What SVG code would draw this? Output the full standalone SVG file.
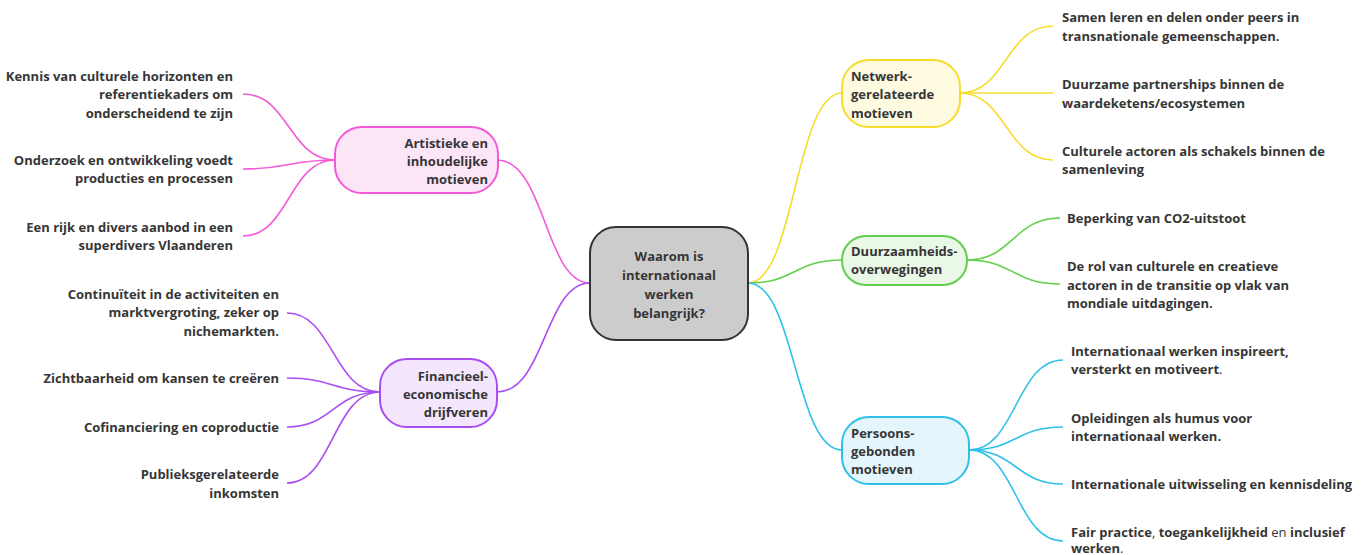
<svg xmlns="http://www.w3.org/2000/svg" width="1365" height="555" viewBox="0 0 1365 555">
<style>
text{font-family:"Open Sans","Liberation Sans",sans-serif;font-size:13px;font-weight:700;fill:#363636}
.r{text-anchor:end}
.c{text-anchor:middle}
.n{font-weight:400}
.con path{fill:none;stroke-width:1.6}
.pk{stroke:#f25ad8}
.pu{stroke:#a94ff2}
.ye{stroke:#f7dc2c}
.gr{stroke:#62cf4c}
.bl{stroke:#2fc0ea}
.box{stroke-width:2}
</style>
<rect width="1365" height="555" fill="#fff"/>
<g id="connectors" class="con">
<path class="pk" d="M590 283 C545 283 545 160 497 160"/>
<path class="pu" d="M590 283 C545 283 545 392 497 392"/>
<path class="ye" d="M748 283 C795 283 795 93 842 93"/>
<path class="gr" d="M748 283 C795 283 795 260 842 260"/>
<path class="bl" d="M748 283 C795 283 795 450 842 450"/>
<path class="pk" d="M335 160 C289 160 289 94 243 94"/>
<path class="pk" d="M335 160 C289 160 289 169 243 169"/>
<path class="pk" d="M335 160 C289 160 289 236 243 236"/>
<path class="pu" d="M380 392 C333 392 333 313 287 313"/>
<path class="pu" d="M380 392 C333 392 333 378 287 378"/>
<path class="pu" d="M380 392 C333 392 333 427 287 427"/>
<path class="pu" d="M380 392 C333 392 333 483 287 483"/>
<path class="ye" d="M960 93 C1006 93 1006 26 1053 26"/>
<path class="ye" d="M960 93 C1006 93 1006 93 1053 93"/>
<path class="ye" d="M960 93 C1006 93 1006 160 1053 160"/>
<path class="gr" d="M967 260 C1013 260 1013 218 1060 218"/>
<path class="gr" d="M967 260 C1013 260 1013 284 1060 284"/>
<path class="bl" d="M969 450 C1016 450 1016 360 1063 360"/>
<path class="bl" d="M969 450 C1016 450 1016 427 1063 427"/>
<path class="bl" d="M969 450 C1016 450 1016 484 1063 484"/>
<path class="bl" d="M969 450 C1016 450 1016 541 1063 541"/>
</g>
<g id="center">
<rect x="590" y="227" width="158" height="113" rx="26" fill="#cccccc" stroke="#333" class="box"/>
<text class="c" x="669" y="261">Waarom is</text>
<text class="c" x="669" y="280">internationaal</text>
<text class="c" x="669" y="299">werken</text>
<text class="c" x="669" y="318">belangrijk?</text>
</g>
<g id="artistiek">
<rect x="335" y="127" width="163" height="66" rx="27" fill="#fde5f8" stroke="#f25ad8" class="box"/>
<text class="r" x="488" y="148">Artistieke en</text>
<text class="r" x="488" y="166">inhoudelijke</text>
<text class="r" x="488" y="184">motieven</text>
</g>
<g id="a1"><text class="r" x="233" y="81">Kennis van culturele horizonten en</text><text class="r" x="233" y="99">referentiekaders om</text><text class="r" x="233" y="118">onderscheidend te zijn</text></g>
<g id="a2"><text class="r" x="233" y="165">Onderzoek en ontwikkeling voedt</text><text class="r" x="233" y="183">producties en processen</text></g>
<g id="a3"><text class="r" x="233" y="232">Een rijk en divers aanbod in een</text><text class="r" x="233" y="250">superdivers Vlaanderen</text></g>
<g id="financieel">
<rect x="380" y="359" width="117" height="68" rx="27" fill="#f4e6fd" stroke="#a94ff2" class="box"/>
<text class="r" x="488" y="381">Financieel-</text>
<text class="r" x="488" y="399">economische</text>
<text class="r" x="488" y="417">drijfveren</text>
</g>
<g id="f1"><text class="r" x="279" y="299">Continuïteit in de activiteiten en</text><text class="r" x="279" y="317">marktvergroting, zeker op</text><text class="r" x="279" y="336">nichemarkten.</text></g>
<g id="f2"><text class="r" x="279" y="383">Zichtbaarheid om kansen te creëren</text></g>
<g id="f3"><text class="r" x="279" y="432">Cofinanciering en coproductie</text></g>
<g id="f4"><text class="r" x="279" y="479">Publieksgerelateerde</text><text class="r" x="279" y="498">inkomsten</text></g>
<g id="netwerk">
<rect x="842" y="60" width="118" height="67" rx="27" fill="#fefbe1" stroke="#f7dc2c" class="box"/>
<text x="851" y="81">Netwerk-</text>
<text x="851" y="99">gerelateerde</text>
<text x="851" y="118">motieven</text>
</g>
<g id="n1"><text x="1062" y="22">Samen leren en delen onder peers in</text><text x="1062" y="41">transnationale gemeenschappen.</text></g>
<g id="n2"><text x="1062" y="89">Duurzame partnerships binnen de</text><text x="1062" y="108">waardeketens/ecosystemen</text></g>
<g id="n3"><text x="1062" y="156">Culturele actoren als schakels binnen de</text><text x="1062" y="174">samenleving</text></g>
<g id="duurzaam">
<rect x="842" y="236" width="125" height="49" rx="24" fill="#eaf8e7" stroke="#62cf4c" class="box"/>
<text x="851" y="256">Duurzaamheids-</text>
<text x="851" y="274">overwegingen</text>
</g>
<g id="d1"><text x="1067" y="223">Beperking van CO2-uitstoot</text></g>
<g id="d2"><text x="1067" y="271">De rol van culturele en creatieve</text><text x="1067" y="290">actoren in de transitie op vlak van</text><text x="1067" y="308">mondiale uitdagingen.</text></g>
<g id="persoon">
<rect x="842" y="417" width="127" height="67" rx="27" fill="#e4f6fc" stroke="#2fc0ea" class="box"/>
<text x="851" y="438">Persoons-</text>
<text x="851" y="456">gebonden</text>
<text x="851" y="474">motieven</text>
</g>
<g id="p1"><text x="1071" y="356">Internationaal werken inspireert,</text><text x="1071" y="374">versterkt en motiveert<tspan class="n">.</tspan></text></g>
<g id="p2"><text x="1071" y="423">Opleidingen als humus voor</text><text x="1071" y="441">internationaal werken.</text></g>
<g id="p3"><text x="1071" y="489">Internationale uitwisseling en kennisdeling</text></g>
<g id="p4"><text x="1071" y="537">Fair practice<tspan class="n">,</tspan> toegankelijkheid <tspan class="n">en</tspan> inclusief</text><text x="1071" y="553">werken<tspan class="n">.</tspan></text></g>
</svg>
